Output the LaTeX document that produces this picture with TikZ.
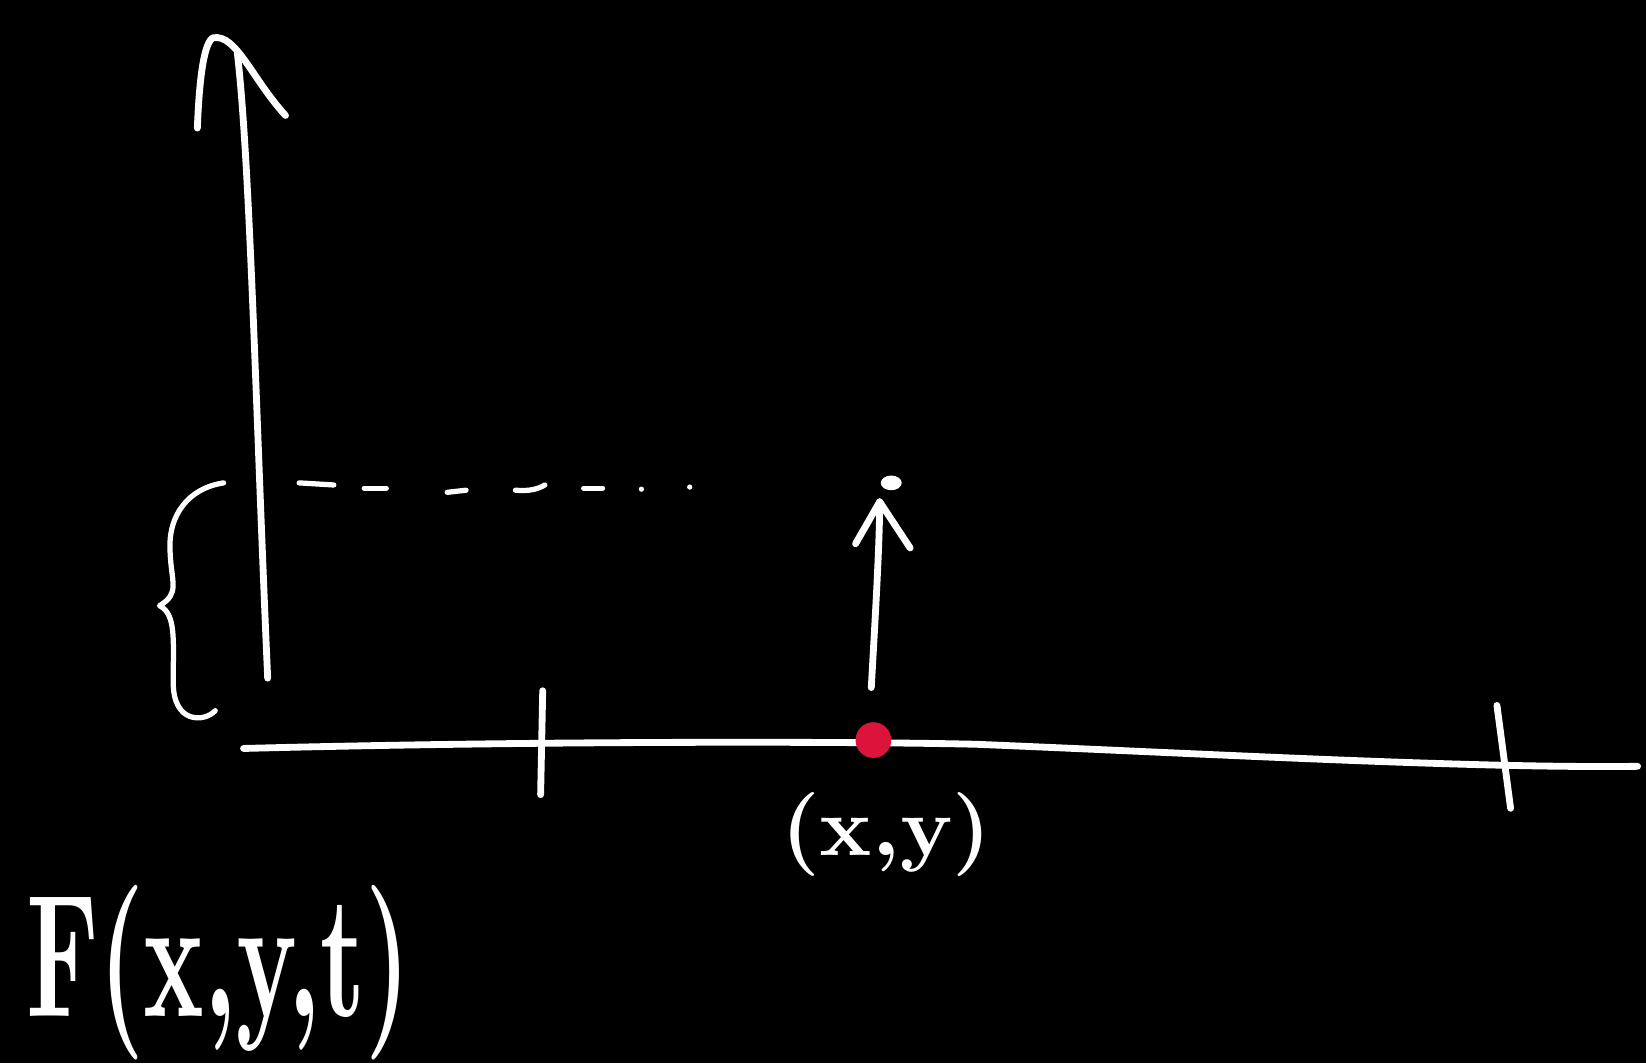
\documentclass[tikz,border=0pt]{standalone}
\usepackage{graphicx}
\newlength\pxu \setlength\pxu{1.0497pt}
\begin{document}
\begin{tikzpicture}[x=\pxu,y=-\pxu, line cap=round, line join=round,
  pen/.style={white, line width=6.5\pxu},
  thinpen/.style={white, line width=5\pxu},
  lbl/.style={white, inner sep=0pt, anchor=base west, font=\bfseries}]
\definecolor{dotred}{RGB}{220,20,60}
\fill[black] (0,0) rectangle (1568,1013);
\useasboundingbox (0,0) rectangle (1568,1013);
% vertical axis
\coordinate (vbot) at (255,646);
\coordinate (vtop) at (226,50);
\draw[pen] (vbot) .. controls (244,400) and (238,150) .. (vtop);
\coordinate (vl) at (188,122);
\coordinate (vtip) at (203,36);
\coordinate (vr) at (272,110);
\draw[pen] (vl) .. controls (190,70) and (195,40) .. (vtip) .. controls (225,32) and (240,75) .. (vr);
% horizontal axis
\coordinate (h0) at (232,713);
\coordinate (h1) at (1560,730);
\draw[pen] (h0) .. controls (500,706) and (800,706) .. (930,709) .. controls (1150,718) and (1400,732) .. (h1);
% ticks
\coordinate (t1a) at (517,658); \coordinate (t1b) at (515,757);
\coordinate (t2a) at (1426,672); \coordinate (t2b) at (1439,770);
\draw[pen] (t1a) -- (t1b);
\draw[pen] (t2a) -- (t2b);
% brace
\coordinate (bt) at (213,460);
\coordinate (bb) at (205,677);
\draw[thinpen] (bt) .. controls (180,465) and (160,490) .. (162,525)
  .. controls (163,555) and (172,565) .. (152,577)
  .. controls (168,585) and (165,610) .. (165,650)
  .. controls (165,690) and (195,688) .. (bb);
% dashed line
\draw[thinpen] (285,460) -- (318,462);
\draw[thinpen] (347,465) -- (368,465);
\draw[thinpen] (426,469) -- (444,467);
\draw[thinpen] (491,467) .. controls (505,468) and (512,466) .. (519,462);
\draw[thinpen] (556,465) -- (574,465);
\fill[white] (611,466) circle (2.5);
\fill[white] (657,464) circle (2.5);
% small arrow
\coordinate (abot) at (830,655);
\coordinate (atip) at (838,478);
\draw[pen] (abot) .. controls (833,600) and (838,520) .. (atip);
\draw[pen] (815,518) -- (atip) -- (867,522);
\fill[white] (849,460) ellipse (10 and 7);
% red dot
\fill[dotred] (832,705) circle (17);
% labels
\node[lbl] (pt) at (744,815) {\resizebox{200\pxu}{60\pxu}{(x,y)}};
\node[lbl] (fn) at (25,968) {\resizebox{365\pxu}{125\pxu}{F(x,y,t)}};
\end{tikzpicture}
\end{document}
